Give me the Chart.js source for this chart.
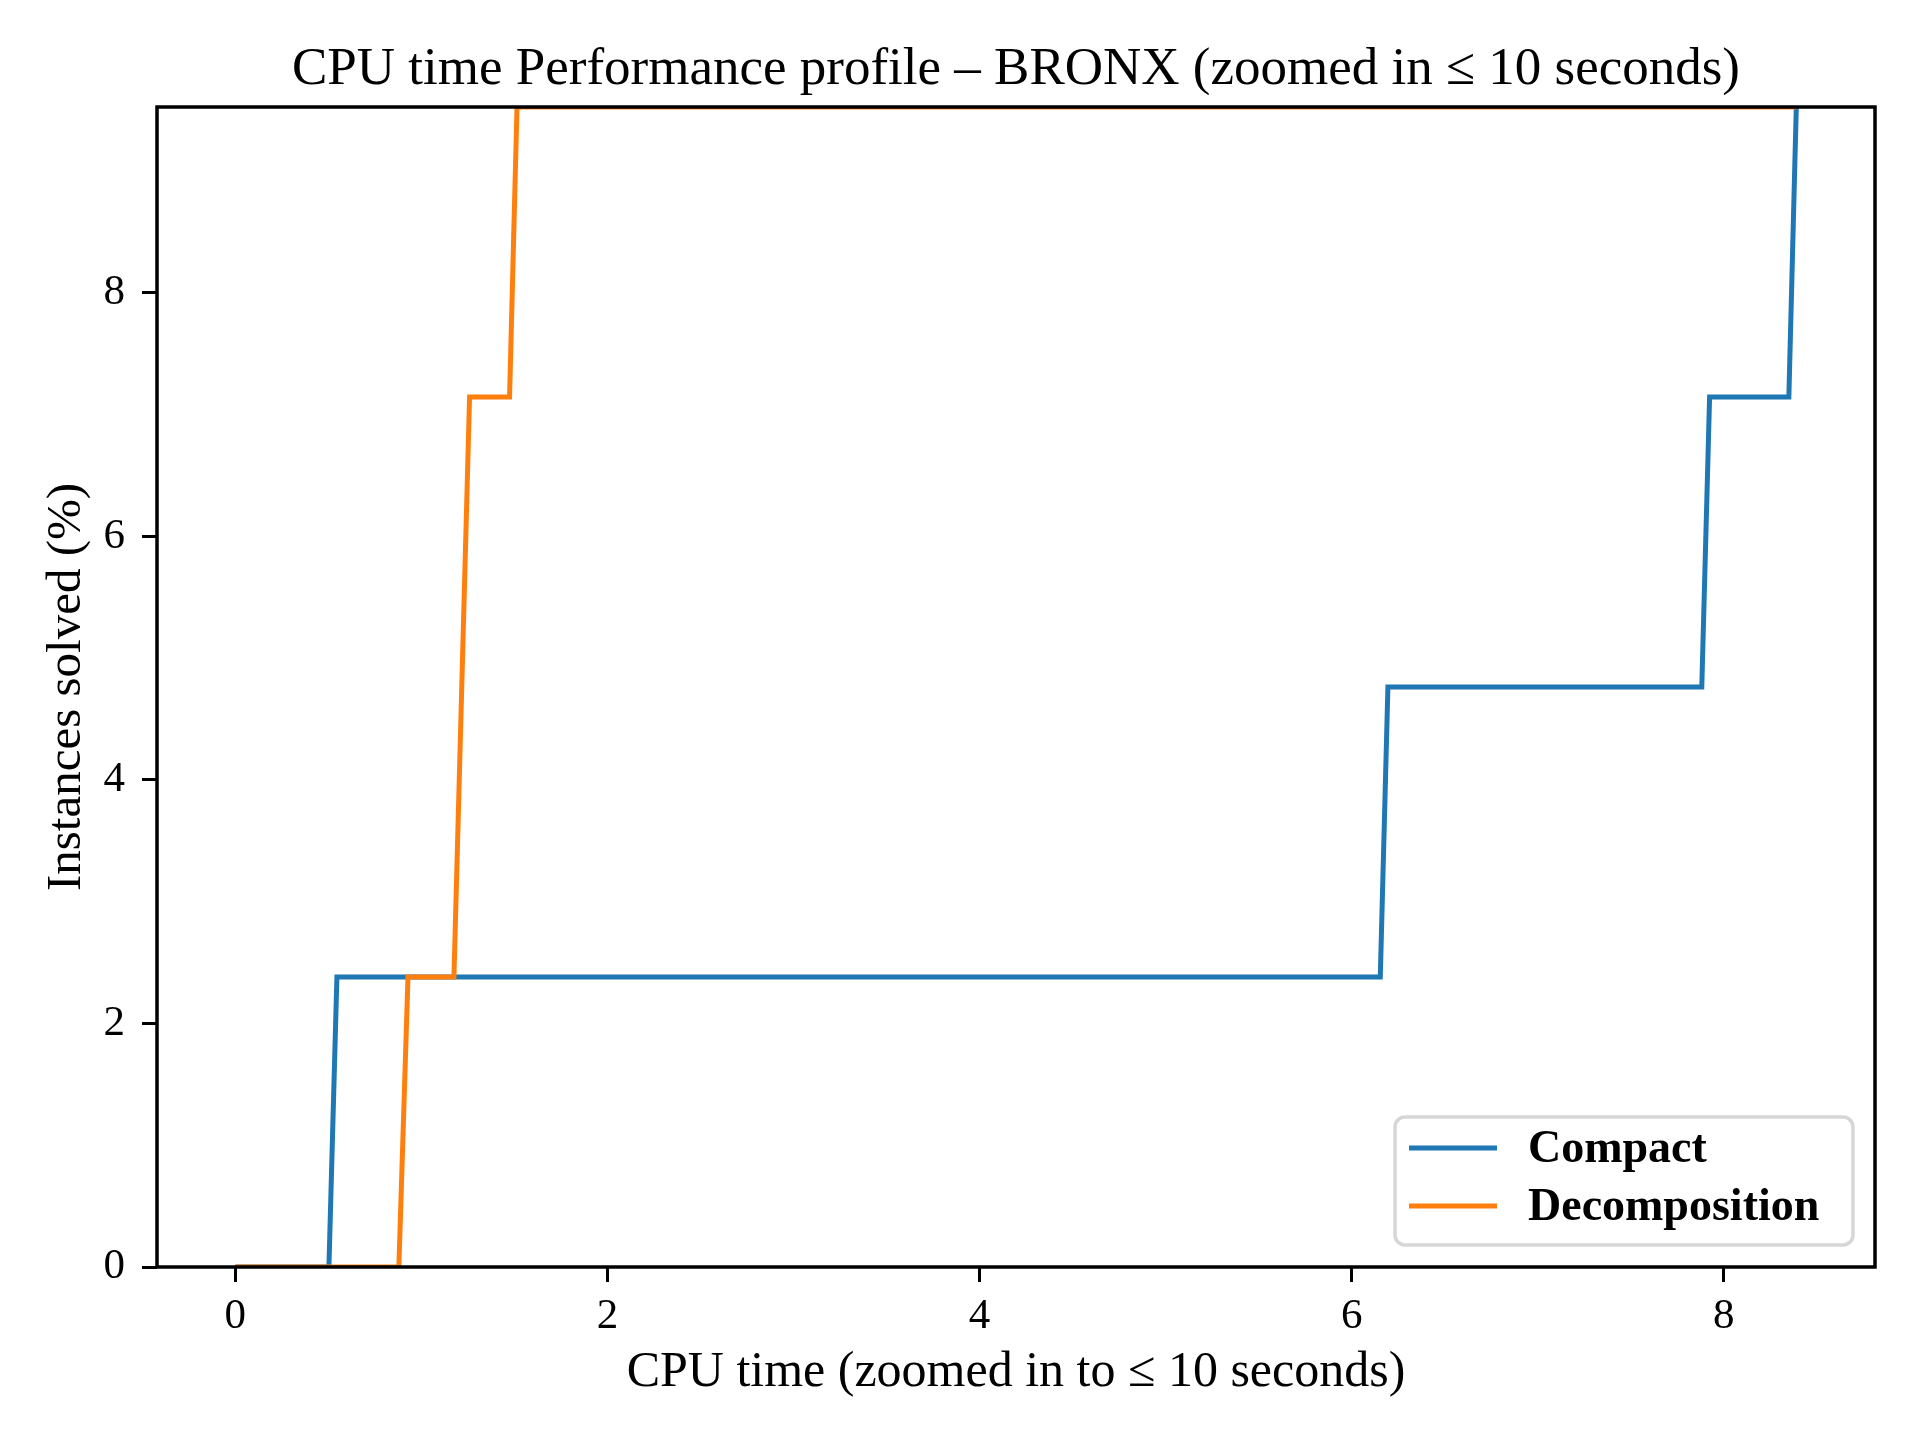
<!DOCTYPE html>
<html>
<head>
<meta charset="utf-8">
<script src="https://cdn.jsdelivr.net/npm/chart.js@4.4.1/dist/chart.umd.min.js"></script>
<style>
  html, body { margin: 0; padding: 0; background: #fff; }
</style>
</head>
<body>
<canvas id="profileChart" width="1920" height="1440"></canvas>
<script>
// step points (time in s, % of instances solved)
const seriesNames = ['Compact', 'Decomposition'];
const compactTime = [0, 0.503, 0.546, 6.154, 6.195, 7.882, 7.924, 8.350, 8.390];
const compactSolved = [0, 0, 2.381, 2.381, 4.762, 4.762, 7.143, 7.143, 9.524];
const decompTime = [0, 0.879, 0.928, 1.175, 1.259, 1.474, 1.514, 8.390];
const decompSolved = [0, 0, 2.381, 2.381, 7.143, 7.143, 9.524, 9.524];
const xTicks = [0, 2, 4, 6, 8];
const yTicks = [0, 2, 4, 6, 8];

const serif = '"Liberation Serif", "DejaVu Serif", serif';

function toPoints(xs, ys) {
    return xs.map((x, i) => ({ x: x, y: ys[i] }));
}

// box around the axes, drawn over the lines like matplotlib spines
const framePlugin = {
    id: 'frame',
    afterDatasetsDraw(chart) {
        const { ctx, chartArea: a } = chart;
        ctx.save();
        ctx.strokeStyle = '#000';
        ctx.lineWidth = 3.5;
        ctx.strokeRect(a.left, a.top, a.right - a.left, a.bottom - a.top);
        ctx.restore();
    }
};

// legend in the lower right corner of the plot
const legendBox = {
    id: 'legendBox',
    afterDraw(chart) {
        const { ctx, chartArea: a } = chart;
        const sets = chart.data.datasets;
        ctx.save();
        ctx.font = 'bold 46px ' + serif;
        const textW = Math.max(...sets.map(d => ctx.measureText(d.label).width));
        const w = Math.max(458, 133 + textW + 20);
        const h = 128;
        const right = a.right - 22;
        const bottom = a.bottom - 22;
        const left = right - w;
        const top = bottom - h;

        ctx.beginPath();
        ctx.roundRect(left, top, w, h, 10);
        ctx.fillStyle = 'rgba(255,255,255,0.8)';
        ctx.fill();
        ctx.strokeStyle = '#d6d6d6';
        ctx.lineWidth = 3.5;
        ctx.stroke();

        sets.forEach((d, i) => {
            const y = top + 31 + i * 58;
            ctx.beginPath();
            ctx.moveTo(left + 14, y);
            ctx.lineTo(left + 102, y);
            ctx.strokeStyle = d.borderColor;
            ctx.lineWidth = 5;
            ctx.stroke();
            ctx.fillStyle = '#000';
            ctx.textBaseline = 'middle';
            ctx.textAlign = 'left';
            ctx.fillText(d.label, left + 133, y + 2);
        });
        ctx.restore();
    }
};

const ctx = document.getElementById('profileChart').getContext('2d');
new Chart(ctx, {
    type: 'line',
    data: {
        datasets: [{
            label: seriesNames[0],
            data: toPoints(compactTime, compactSolved),
            borderColor: '#1f77b4',
            borderWidth: 5,
            order: 1,
            clip: 0
        }, {
            label: seriesNames[1],
            data: toPoints(decompTime, decompSolved),
            borderColor: '#ff7f0e',
            borderWidth: 5,
            order: 0,
            clip: 0
        }]
    },
    options: {
        responsive: false,
        animation: false,
        devicePixelRatio: 1,
        layout: { padding: { left: 0, right: 45, top: 0, bottom: 0 } },
        elements: {
            point: { radius: 0 },
            line: { tension: 0, fill: false, borderJoinStyle: 'miter', borderCapStyle: 'butt' }
        },
        plugins: {
            legend: { display: false },
            tooltip: { enabled: false },
            title: {
                display: true,
                fullSize: false,
                text: 'CPU time Performance profile – BRONX (zoomed in ≤ 10 seconds)',
                color: '#000',
                font: { family: serif, size: 53, weight: 'normal' },
                padding: { top: 38, bottom: 5.4 }
            }
        },
        scales: {
            x: {
                type: 'linear',
                min: -0.421,
                max: 8.813,
                afterFit: s => { s.height = 173; },
                afterBuildTicks: s => { s.ticks = xTicks.map(v => ({ value: v })); },
                grid: { drawOnChartArea: false, drawTicks: true, tickLength: 15, color: '#000', lineWidth: 3 },
                border: { display: false },
                ticks: { color: '#000', font: { family: serif, size: 43 }, padding: 9, maxRotation: 0 },
                title: {
                    display: true,
                    text: 'CPU time (zoomed in to ≤ 10 seconds)',
                    color: '#000',
                    font: { family: serif, size: 50 },
                    padding: { top: 0, bottom: 37 }
                }
            },
            y: {
                type: 'linear',
                min: 0,
                max: 9.524,
                afterFit: s => { s.width = 157; },
                afterBuildTicks: s => { s.ticks = yTicks.map(v => ({ value: v })); },
                grid: { drawOnChartArea: false, drawTicks: true, tickLength: 15, color: '#000', lineWidth: 3 },
                border: { display: false },
                ticks: { color: '#000', font: { family: serif, size: 43 }, padding: 17 },
                title: {
                    display: true,
                    text: 'Instances solved (%)',
                    color: '#000',
                    font: { family: serif, size: 49 },
                    padding: { top: 38, bottom: 0 }
                }
            }
        }
    },
    plugins: [framePlugin, legendBox]
});
</script>
</body>
</html>
